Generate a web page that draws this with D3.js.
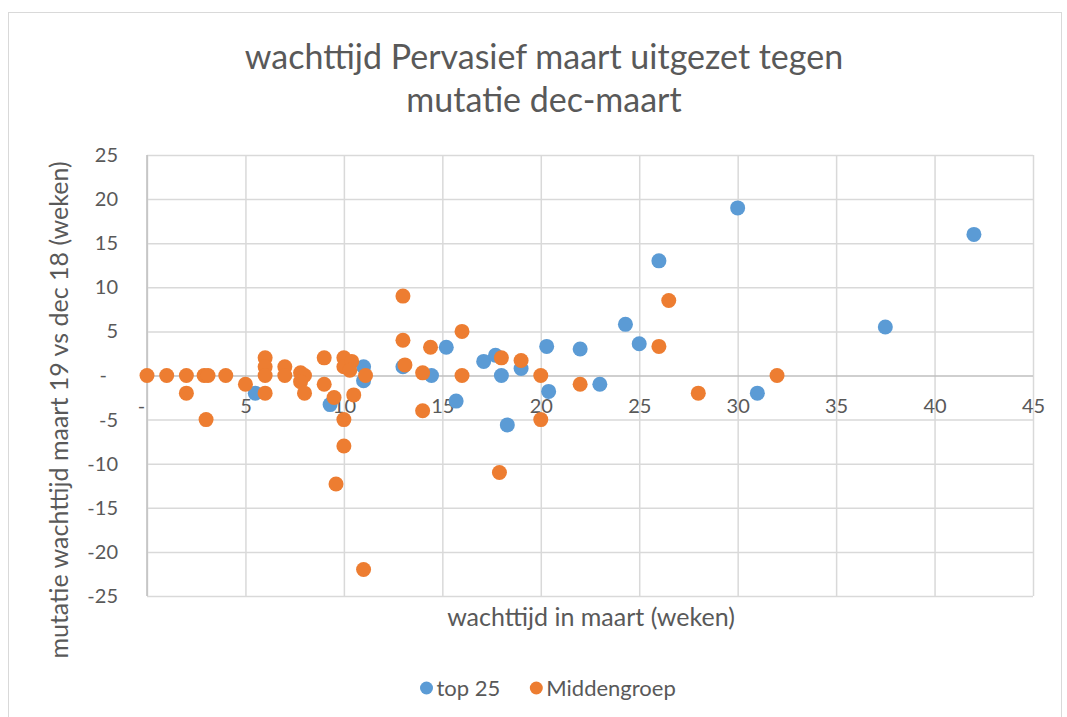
<!DOCTYPE html>
<html>
<head>
<meta charset="utf-8">
<script src="https://cdn.jsdelivr.net/npm/d3@7"></script>
<style>
  body { margin: 0; background: #fff; }
  svg text { font-family: Lato, "Open Sans", sans-serif; fill: #595959; }
</style>
</head>
<body>
<svg id="chart"></svg>
<script>
const title = ["wachttijd Pervasief maart uitgezet tegen", "mutatie dec-maart"];
const xTitle = "wachttijd in maart (weken)";
const yTitle = "mutatie wachttijd maart 19 vs dec 18 (weken)";
const seriesNames = ["top 25", "Middengroep"];
const seriesColors = ["#5B9BD5", "#ED7D31"];
const xTicks = [0, 5, 10, 15, 20, 25, 30, 35, 40, 45];
const yTicks = [-25, -20, -15, -10, -5, 0, 5, 10, 15, 20, 25];

// top 25
const top25X = [5.5, 9.3, 11, 11, 13, 14.45, 15.2, 15.7, 17.1, 17.7, 18, 18.3, 19, 20.3, 20.4, 22, 23, 24.3, 25, 26, 30, 31, 37.5, 42];
const top25Y = [-2, -3.3, 1, -0.6, 1, 0, 3.2, -2.9, 1.6, 2.3, 0, -5.6, 0.8, 3.3, -1.8, 3, -1, 5.8, 3.6, 13, 19, -2, 5.5, 16];
// Middengroep
const midX = [0, 1, 2, 2, 2.9, 3.1, 3, 4, 5, 6, 6, 6, 6, 7, 7, 7.8, 8, 7.8, 8, 9, 9, 9.5, 10, 10, 10.4, 10.3, 10, 10, 10.5, 9.6, 11, 11.1, 13, 13, 13.1, 14.4, 14, 14, 16, 16, 18, 17.9, 19, 20, 20, 22, 26, 26.5, 28, 32];
const midY = [0, 0, 0, -2, 0, 0, -5, 0, -1, 2, 1, 0, -2, 1, 0, 0.3, 0, -0.7, -2, 2, -1, -2.5, 2, 1, 1.6, 0.6, -5, -8, -2.2, -12.3, -22, 0, 9, 4, 1.2, 3.2, 0.3, -4, 5, 0, 2, -11, 1.7, 0, -5, -1, 3.3, 8.5, -2, 0];

const W = 1067, H = 717;
const margin = { left: 147, right: 34, top: 155, bottom: 121 };
const iw = W - margin.left - margin.right;
const ih = H - margin.top - margin.bottom;

const svg = d3.select('#chart').attr('width', W).attr('height', H);

svg.append('rect')
    .attr('x', 8.5).attr('y', 12.5)
    .attr('width', 1053).attr('height', 720)
    .attr('fill', '#fff').attr('stroke', '#d9d9d9');

const x = d3.scaleLinear().domain([0, 45]).range([0, iw]);
const y = d3.scaleLinear().domain([-25, 25]).range([ih, 0]);

const g = svg.append('g').attr('transform', `translate(${margin.left},${margin.top})`);

// vertical gridlines
g.append('g')
    .attr('transform', `translate(0,${ih})`)
    .call(d3.axisBottom(x).tickValues(xTicks).tickSize(-ih).tickFormat(''))
    .call(a => a.select('.domain').remove())
    .call(a => a.selectAll('line').attr('stroke', '#d9d9d9').attr('stroke-width', 1.5));

// horizontal gridlines + y labels
g.append('g')
    .call(d3.axisLeft(y).tickValues(yTicks).tickSize(-iw).tickPadding(29)
        .tickFormat(d => d === 0 ? '-' : d))
    .call(a => a.select('.domain').remove())
    .call(a => a.selectAll('line').attr('stroke', d => d === 0 ? '#bfbfbf' : '#d9d9d9').attr('stroke-width', 1.5))
    .call(a => a.selectAll('text').style('font-size', '20px').attr('fill', '#595959')
        .attr('dx', d => d === 0 ? -11 : 0));

// y axis line
g.append('line')
    .attr('x1', x(0)).attr('x2', x(0)).attr('y1', 0).attr('y2', ih)
    .attr('stroke', '#bfbfbf').attr('stroke-width', 1.5);

// x labels along zero line
g.append('g')
    .attr('transform', `translate(0,${y(0)})`)
    .call(d3.axisBottom(x).tickValues(xTicks).tickSize(0).tickPadding(23)
        .tickFormat(d => d === 0 ? '-' : d))
    .call(a => a.select('.domain').remove())
    .call(a => a.selectAll('text').style('font-size', '20px').attr('fill', '#595959')
        .attr('dx', d => d === 0 ? -6 : 0));

const series = [
    { name: seriesNames[0], color: seriesColors[0], xs: top25X, ys: top25Y },
    { name: seriesNames[1], color: seriesColors[1], xs: midX, ys: midY }
];

series.forEach(s => {
    g.append('g').selectAll('circle')
        .data(s.xs.map((v, i) => [v, s.ys[i]]))
        .enter()
        .append('circle')
        .attr('cx', d => x(d[0]))
        .attr('cy', d => y(d[1]))
        .attr('r', 7.5)
        .attr('fill', s.color);
});

// titles
svg.append('text')
    .attr('text-anchor', 'middle')
    .style('font-size', '34px')
    .selectAll('tspan')
    .data(title)
    .enter()
    .append('tspan')
    .attr('x', 544)
    .attr('y', (d, i) => 69 + i * 43)
    .text(d => d);

svg.append('text')
    .attr('x', 591).attr('y', 626)
    .attr('text-anchor', 'middle')
    .style('font-size', '25px')
    .text(xTitle);

svg.append('text')
    .attr('transform', 'translate(68,410) rotate(-90)')
    .attr('text-anchor', 'middle')
    .style('font-size', '25px')
    .text(yTitle);

// legend
const legend = svg.append('g').attr('transform', 'translate(426.5,688)');
let lx = 0;
series.forEach(s => {
    const item = legend.append('g').attr('transform', `translate(${lx},0)`);
    item.append('circle').attr('r', 6.5).attr('fill', s.color);
    const t = item.append('text').attr('x', 10).attr('y', 8).style('font-size', '22px').text(s.name);
    lx += 10 + t.node().getComputedTextLength() + 36;
});
</script>
</body>
</html>
